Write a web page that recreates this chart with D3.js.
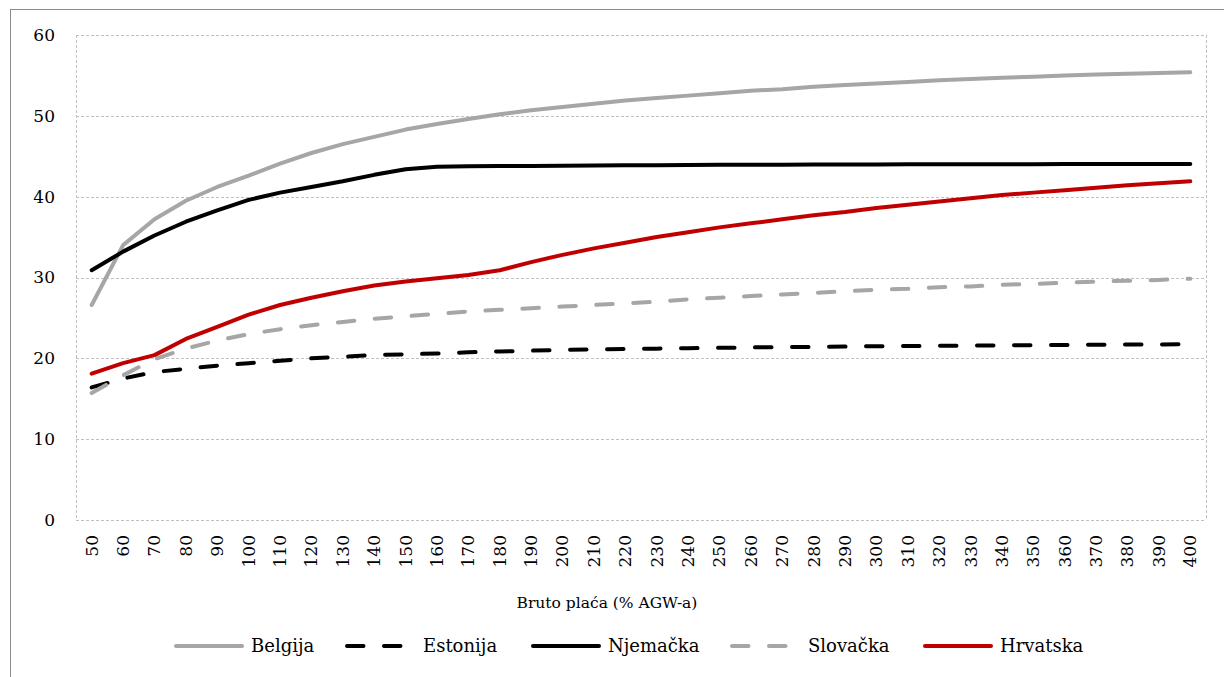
<!DOCTYPE html>
<html>
<head>
<meta charset="utf-8">
<script src="https://cdn.jsdelivr.net/npm/d3@7"></script>
<style>
  html, body { margin: 0; padding: 0; background: #fff; }
  svg { display: block; }
  text { font-family: "DejaVu Serif", serif; fill: #000; }
</style>
</head>
<body>
<svg id="chart" width="1224" height="677"></svg>
<script>
const categories = [50,60,70,80,90,100,110,120,130,140,150,160,170,180,190,200,210,220,230,240,250,260,270,280,290,300,310,320,330,340,350,360,370,380,390,400];

const belgija = [26.6,34.0,37.2,39.5,41.2,42.6,44.1,45.4,46.5,47.4,48.3,49.0,49.6,50.2,50.7,51.1,51.5,51.9,52.2,52.5,52.8,53.1,53.3,53.6,53.8,54.0,54.2,54.4,54.55,54.7,54.85,55.0,55.1,55.2,55.3,55.4];
const estonija = [16.4,17.5,18.3,18.7,19.1,19.4,19.7,20.0,20.2,20.4,20.5,20.6,20.75,20.85,20.95,21.05,21.1,21.15,21.2,21.25,21.3,21.35,21.4,21.42,21.45,21.5,21.52,21.55,21.58,21.6,21.62,21.65,21.68,21.7,21.72,21.75];
const njemacka = [30.9,33.2,35.2,36.9,38.3,39.6,40.5,41.2,41.9,42.7,43.4,43.7,43.75,43.78,43.8,43.83,43.86,43.88,43.9,43.92,43.94,43.95,43.96,43.97,43.98,43.99,44.0,44.0,44.01,44.02,44.02,44.03,44.03,44.04,44.04,44.05];
const slovacka = [15.7,17.9,19.9,21.2,22.2,23.0,23.6,24.1,24.5,24.9,25.2,25.5,25.8,26.0,26.2,26.4,26.6,26.8,27.0,27.3,27.5,27.7,27.9,28.1,28.3,28.5,28.6,28.8,28.9,29.1,29.2,29.35,29.5,29.6,29.7,29.85];
const hrvatska = [18.1,19.4,20.4,22.4,23.9,25.4,26.6,27.5,28.3,29.0,29.5,29.9,30.3,30.9,31.9,32.8,33.6,34.3,35.0,35.6,36.2,36.7,37.2,37.7,38.1,38.6,39.0,39.4,39.8,40.2,40.5,40.8,41.1,41.4,41.65,41.9];

const seriesNames = ["Belgija","Estonija","Njemačka","Slovačka","Hrvatska"];
const yTicks = [0,10,20,30,40,50,60];
const xTitle = "Bruto plaća (% AGW-a)";

const series = [
  {name: seriesNames[0], values: belgija,  color: "#a6a6a6", dash: null},
  {name: seriesNames[1], values: estonija, color: "#000000", dash: "16.5 20.5"},
  {name: seriesNames[2], values: njemacka, color: "#000000", dash: null},
  {name: seriesNames[3], values: slovacka, color: "#a6a6a6", dash: "16.5 20.5"},
  {name: seriesNames[4], values: hrvatska, color: "#c00000", dash: null}
];

const svg = d3.select("#chart");
const plotLeft = 76, plotRight = 1206, plotTop = 35, plotBottom = 520;

// outer border
svg.append("rect").attr("x", 10.5).attr("y", 9.5).attr("width", 1400).attr("height", 800)
  .attr("fill", "none").attr("stroke", "#8c8c8c").attr("stroke-width", 1);

const x = d3.scaleBand().domain(categories).range([plotLeft, plotRight]).padding(0);
const y = d3.scaleLinear().domain([0, 60]).range([plotBottom, plotTop]);
const cx = c => x(c) + x.bandwidth() / 2;

// gridlines
const grid = svg.append("g");
grid.selectAll("line.h").data(yTicks).join("line")
  .attr("x1", plotLeft).attr("x2", plotRight)
  .attr("y1", d => Math.round(y(d)) + 0.5).attr("y2", d => Math.round(y(d)) + 0.5)
  .attr("stroke", "#c0c0c0").attr("stroke-width", 1).attr("stroke-dasharray", "3 2");
[plotLeft, plotRight].forEach(xx => {
  grid.append("line").attr("x1", xx + 0.5).attr("x2", xx + 0.5)
    .attr("y1", y(60)).attr("y2", y(0))
    .attr("stroke", "#c0c0c0").attr("stroke-width", 1).attr("stroke-dasharray", "3 2");
});

// y axis labels
const yAxis = d3.axisLeft(y).tickValues(yTicks).tickSize(0).tickPadding(0);
const yg = svg.append("g").attr("transform", `translate(${plotLeft - 21},0)`).call(yAxis);
yg.select(".domain").remove();
yg.selectAll("text").attr("font-size", 17).attr("font-family", "DejaVu Serif").attr("fill", "#000");

// x axis labels
const xAxis = d3.axisBottom(x).tickSize(0).tickPadding(0);
const xg = svg.append("g").attr("transform", `translate(0,${plotBottom})`).call(xAxis);
xg.select(".domain").remove();
xg.selectAll("text")
  .attr("font-size", 17).attr("font-family", "DejaVu Serif").attr("fill", "#000")
  .attr("text-anchor", "end")
  .attr("transform", "translate(0,15) rotate(-90)")
  .attr("x", 0).attr("y", 0).attr("dy", "0.35em");

// axis title
svg.append("text").attr("x", (plotLeft + plotRight) / 2 - 34).attr("y", 608)
  .attr("text-anchor", "middle").attr("font-size", 15.5).text(xTitle);

// lines
const line = d3.line().x((d, i) => cx(categories[i])).y(d => y(d));
series.forEach(s => {
  svg.append("path").datum(s.values)
    .attr("d", line)
    .attr("fill", "none")
    .attr("stroke", s.color)
    .attr("stroke-width", 4)
    .attr("stroke-linecap", "round")
    .attr("stroke-linejoin", "round")
    .attr("stroke-dasharray", s.dash);
});

// legend
const legendX = [174, 345, 531, 730, 923];
const ly = 646;
const lg = svg.append("g");
series.forEach((s, i) => {
  const x0 = legendX[i];
  const x1 = s.dash ? x0 + 58 : x0 + 68;
  lg.append("line").attr("x1", x0 + 2).attr("x2", x1).attr("y1", ly).attr("y2", ly)
    .attr("stroke", s.color).attr("stroke-width", 4)
    .attr("stroke-linecap", "round").attr("stroke-dasharray", s.dash);
  lg.append("text").attr("x", s.dash ? x0 + 78 : x0 + 77).attr("y", ly).attr("dy", "0.36em")
    .attr("font-size", 18).text(s.name);
});
</script>
</body>
</html>
